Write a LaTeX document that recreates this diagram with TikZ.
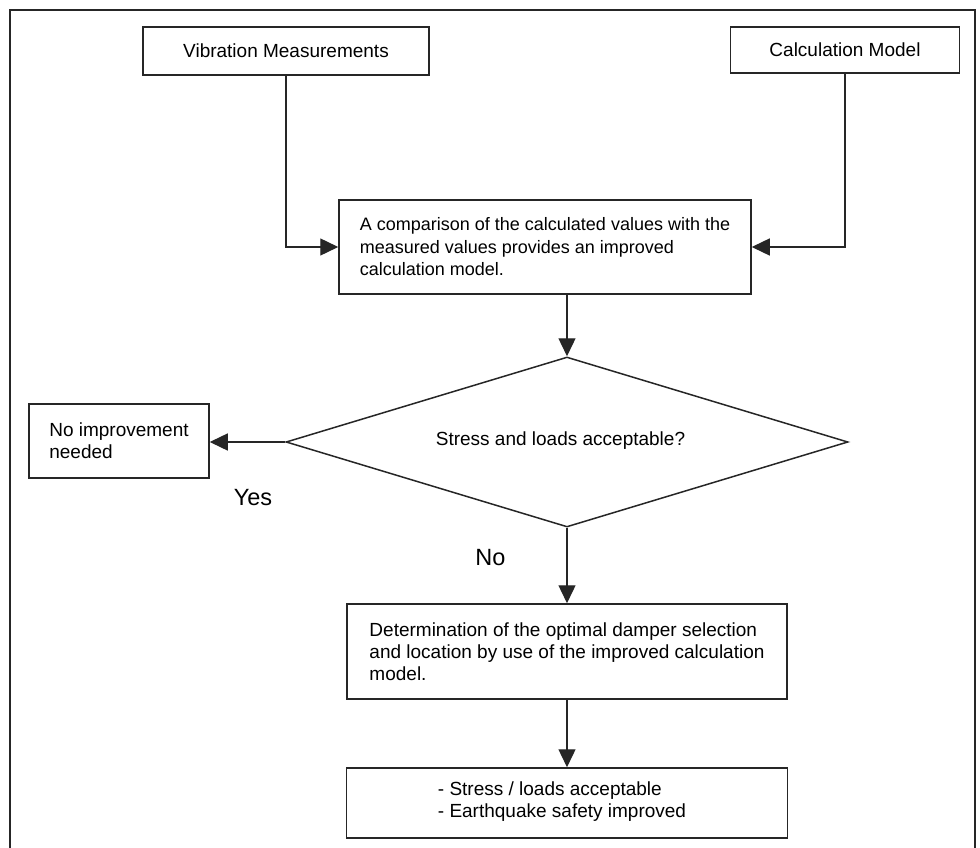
\documentclass[tikz,border=0pt]{standalone}
\usepackage{fontspec}
\setmainfont{Liberation Sans}
\usetikzlibrary{arrows.meta,shapes.geometric}
\begin{document}
\begin{tikzpicture}[x=1pt,y=-1pt,
  box/.style={draw=black!85, line width=1.5pt, inner sep=0pt, align=left, font=\fontsize{19}{22}\selectfont},
  conn/.style={draw=black!85, line width=1.4pt, -{Triangle[length=18pt,width=17pt]}},
  lab/.style={font=\fontsize{23.5}{28}\selectfont, anchor=base, inner sep=0pt}]
\useasboundingbox (0,0) rectangle (980,848);
\clip (0,0) rectangle (980,848);
\draw[line width=2.8pt, black!85] (10,860) -- (10,10) -- (975,10) -- (975,860);

\node[box, minimum width=286pt, minimum height=48pt] (vm) at (286,51) {Vibration Measurements};
\node[box, minimum width=229pt, minimum height=46pt] (cm) at (845,50) {Calculation Model};
\node[box, font=\fontsize{18}{22.5}\selectfont, minimum width=412pt, minimum height=94pt] (cmp) at (545,247)
  {A comparison of the calculated values with the\\measured values provides an improved\\calculation model.};
\node[draw=black!85, line width=1.5pt, diamond, minimum width=562pt, minimum height=170pt, inner sep=0pt] (dia) at (567,442) {};
\node[font=\fontsize{19}{22}\selectfont, anchor=base, inner sep=0pt] (diatxt) at (560.5,445) {Stress and loads acceptable?};
\node[box, minimum width=180pt, minimum height=74pt] (ni) at (119,441) {No improvement\\needed};
\node[box, minimum width=440pt, minimum height=95pt] (det) at (567,651.5)
  {Determination of the optimal damper selection\\and location by use of the improved calculation\\model.};
\node[box, minimum width=441pt, minimum height=70pt] (res) at (567,803) {};
\node[font=\fontsize{19}{22}\selectfont, align=left, inner sep=0pt] (restxt) at (562,802)
  {- Stress / loads acceptable\\- Earthquake safety improved};

\node[lab] (yes) at (253,505) {Yes};
\node[lab] (no) at (490.5,565) {No};

\draw[conn] (vm.south) |- (cmp.west);
\draw[conn] (cm.south) |- (cmp.east);
\draw[conn] (dia.north |- cmp.south) -- (dia.north);
\draw[conn] (dia.west) -- (dia.west -| ni.east);
\draw[conn] (dia.south) -- (det.north);
\draw[conn] (det.south) -- (res.north);
\end{tikzpicture}
\end{document}
